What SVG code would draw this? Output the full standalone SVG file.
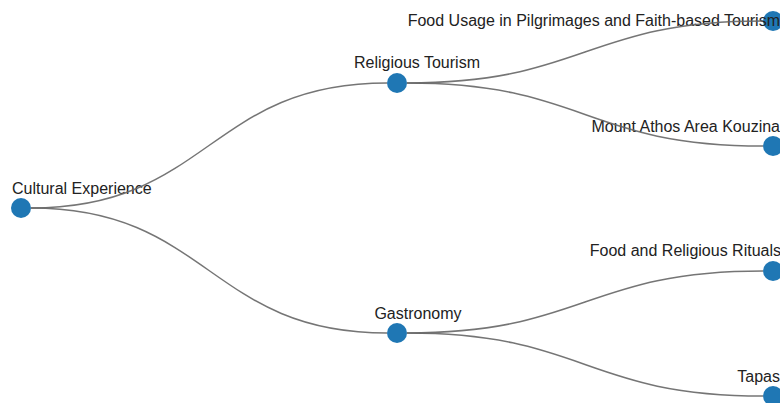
<svg xmlns="http://www.w3.org/2000/svg" width="780" height="403" viewBox="0 0 780 403">
<style>
  .node circle { fill: #1f77b4; }
  .node text { font-family: "Liberation Sans", Arial, sans-serif; font-size: 16px; fill: #222; }
  .link { fill: none; stroke: #666; stroke-width: 1.5; stroke-opacity: 0.9; }
</style>
<rect width="780" height="403" fill="#ffffff"/>
<g id="node-cultural-experience" class="node">
  <circle cx="21" cy="208" r="10"/>
  <text x="12" y="194">Cultural Experience</text>
</g>
<g id="node-religious-tourism" class="node">
  <circle cx="397" cy="83" r="10"/>
  <text x="417" y="68" text-anchor="middle">Religious Tourism</text>
</g>
<g id="node-gastronomy" class="node">
  <circle cx="397" cy="333" r="10"/>
  <text x="418" y="319" text-anchor="middle">Gastronomy</text>
</g>
<g id="node-food-usage" class="node">
  <circle cx="773" cy="21" r="10"/>
  <text x="780" y="26" text-anchor="end">Food Usage in Pilgrimages and Faith-based Tourism</text>
</g>
<g id="node-mount-athos" class="node">
  <circle cx="773" cy="146" r="10"/>
  <text x="780" y="132" text-anchor="end">Mount Athos Area Kouzina</text>
</g>
<g id="node-food-rituals" class="node">
  <circle cx="773" cy="271" r="10"/>
  <text x="781" y="256" text-anchor="end">Food and Religious Rituals</text>
</g>
<g id="node-tapas" class="node">
  <circle cx="773" cy="396" r="10"/>
  <text x="780" y="382" text-anchor="end">Tapas</text>
</g>
<g id="connectors">
  <path class="link" d="M31,208 C209,208 209,83 387,83"/>
  <path class="link" d="M31,208 C209,208 209,333 387,333"/>
  <path class="link" d="M407,83 C585,83 585,21 763,21"/>
  <path class="link" d="M407,83 C585,83 585,146 763,146"/>
  <path class="link" d="M407,333 C585,333 585,271 763,271"/>
  <path class="link" d="M407,333 C585,333 585,396 763,396"/>
</g>
</svg>
